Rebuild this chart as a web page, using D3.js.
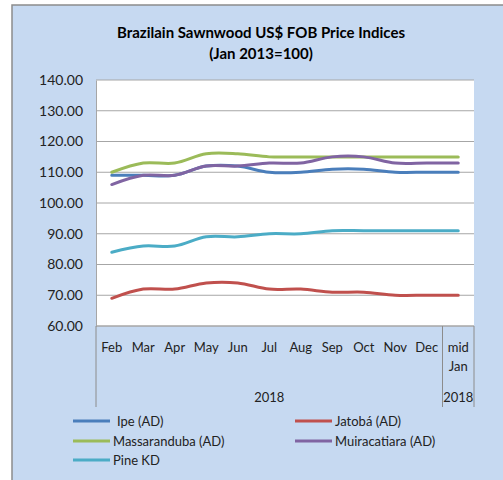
<!DOCTYPE html>
<html>
<head>
<meta charset="utf-8">
<script src="https://cdn.jsdelivr.net/npm/d3@7"></script>
<style>
  body { margin: 0; background: #fff; }
  svg { display: block; font-family: Lato, "Open Sans", sans-serif; }
</style>
</head>
<body>
<svg width="503" height="480"></svg>
<script>
const months = ['Feb', 'Mar', 'Apr', 'May', 'Jun', 'Jul', 'Aug', 'Sep', 'Oct', 'Nov', 'Dec', 'mid Jan'];
const yTicks = [60, 70, 80, 90, 100, 110, 120, 130, 140];

const ipe = [109, 109, 109, 112, 112, 110, 110, 111, 111, 110, 110, 110];
const jatoba = [69, 72, 72, 74, 74, 72, 72, 71, 71, 70, 70, 70];
const massaranduba = [110, 113, 113, 116, 116, 115, 115, 115, 115, 115, 115, 115];
const muiracatiara = [106, 109, 109, 112, 112, 113, 113, 115, 115, 113, 113, 113];
const pine = [84, 86, 86, 89, 89, 90, 90, 91, 91, 91, 91, 91];

const series = [
    { name: 'Ipe (AD)', values: ipe, color: '#4a7ebb' },
    { name: 'Jatobá (AD)', values: jatoba, color: '#c0504d' },
    { name: 'Massaranduba (AD)', values: massaranduba, color: '#9bbb59' },
    { name: 'Muiracatiara (AD)', values: muiracatiara, color: '#8064a2' },
    { name: 'Pine KD', values: pine, color: '#4bacc6' }
];
// draw order so that the blue line sits under purple like the original
const drawOrder = [0, 1, 2, 4, 3];

const svg = d3.select('svg');

const plotLeft = 96, plotRight = 474, plotTop = 80, plotBottom = 326;

svg.append('rect')
    .attr('x', 12).attr('y', 5)
    .attr('width', 520).attr('height', 500)
    .attr('fill', '#c6d9f1')
    .attr('stroke', '#8c8c8c')
    .attr('stroke-width', 1.5);

svg.append('text')
    .attr('x', 261).attr('y', 38)
    .attr('text-anchor', 'middle')
    .attr('font-weight', 'bold')
    .attr('font-size', 15)
    .text('Brazilain Sawnwood US$ FOB Price Indices');

svg.append('text')
    .attr('x', 261).attr('y', 59)
    .attr('text-anchor', 'middle')
    .attr('font-weight', 'bold')
    .attr('font-size', 15)
    .text('(Jan 2013=100)');

const xScale = d3.scaleBand()
    .domain(months)
    .range([plotLeft, plotRight]);

const yScale = d3.scaleLinear()
    .domain([60, 140])
    .range([plotBottom, plotTop]);

svg.append('rect')
    .attr('x', plotLeft).attr('y', plotTop)
    .attr('width', plotRight - plotLeft).attr('height', plotBottom - plotTop)
    .attr('fill', '#fff');

// grid
svg.append('g')
    .selectAll('line')
    .data(yTicks)
    .enter()
    .append('line')
    .attr('x1', plotLeft).attr('x2', plotRight)
    .attr('y1', (d) => yScale(d)).attr('y2', (d) => yScale(d))
    .attr('stroke', '#a6a6a6')
    .attr('stroke-width', 1);

// y axis
const yAxis = svg.append('g')
    .attr('transform', `translate(${plotLeft}, 0)`)
    .call(d3.axisLeft(yScale).tickValues(yTicks).tickSize(0).tickPadding(13).tickFormat(d3.format('.2f')));
yAxis.select('.domain').attr('stroke', '#a6a6a6');
yAxis.selectAll('text').attr('font-size', 14).attr('fill', '#222').attr('font-family', 'Lato, sans-serif');

// x axis with category separators
svg.append('line')
    .attr('x1', plotLeft).attr('x2', plotRight)
    .attr('y1', plotBottom).attr('y2', plotBottom)
    .attr('stroke', '#a6a6a6');

const sepX = [plotLeft, xScale('mid Jan'), plotRight];
svg.append('g')
    .selectAll('line')
    .data(sepX)
    .enter()
    .append('line')
    .attr('x1', (d) => d).attr('x2', (d) => d)
    .attr('y1', plotBottom).attr('y2', 407)
    .attr('stroke', '#8c8c8c');

const xLabels = svg.append('g')
    .attr('font-size', 13)
    .attr('fill', '#222')
    .attr('text-anchor', 'middle');

months.forEach((m) => {
    const cx = xScale(m) + xScale.bandwidth() / 2;
    const parts = m.split(' ');
    parts.forEach((p, i) => {
        xLabels.append('text')
            .attr('x', cx)
            .attr('y', 352 + i * 19)
            .text(p);
    });
});

xLabels.append('text')
    .attr('x', (plotLeft + xScale('mid Jan')) / 2)
    .attr('y', 402)
    .text('2018');

xLabels.append('text')
    .attr('x', xScale('mid Jan') + xScale.bandwidth() / 2)
    .attr('y', 402)
    .text('2018');

// lines
const line = d3.line()
    .x((d, i) => xScale(months[i]) + xScale.bandwidth() / 2)
    .y((d) => yScale(d))
    .curve(d3.curveCatmullRom.alpha(0.5));

drawOrder.forEach((k) => {
    const s = series[k];
    svg.append('path')
        .datum(s.values)
        .attr('d', line)
        .attr('fill', 'none')
        .attr('stroke', s.color)
        .attr('stroke-width', 3)
        .attr('stroke-linecap', 'round')
        .attr('stroke-linejoin', 'round');
});

// legend
const legendPos = [
    [73, 421], [295, 421],
    [73, 441], [295, 441],
    [73, 460]
];

const legend = svg.append('g')
    .selectAll('g')
    .data(series)
    .enter()
    .append('g')
    .attr('transform', (d, i) => `translate(${legendPos[i][0]}, ${legendPos[i][1]})`);

legend.append('line')
    .attr('x1', 0).attr('x2', 37)
    .attr('stroke', (d) => d.color)
    .attr('stroke-width', 3);

legend.append('text')
    .attr('x', (d, i) => i === 0 ? 44 : 40)
    .attr('y', 5)
    .attr('font-size', 13)
    .attr('fill', '#222')
    .text((d) => d.name);
</script>
</body>
</html>
